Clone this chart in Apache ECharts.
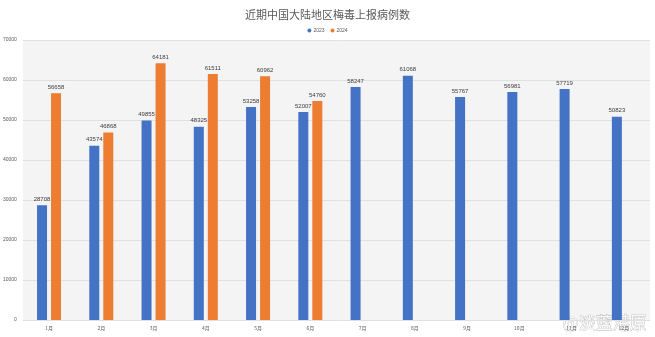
<!DOCTYPE html>
<html>
<head>
<meta charset="utf-8">
<script src="https://cdn.jsdelivr.net/npm/echarts@6/dist/echarts.min.js"></script>
<style>
  html, body { margin: 0; padding: 0; background: #fff; }
  #chart { width: 655px; height: 337px; }
</style>
</head>
<body>
<div id="chart"></div>
<script>
const months = ['1月', '2月', '3月', '4月', '5月', '6月', '7月', '8月', '9月', '10月', '11月', '12月']
const cases2023 = [28708, 43574, 49855, 48325, 53258, 52007, 58247, 61068, 55767, 56981, 57719, 50823]
const cases2024 = [56658, 46868, 64181, 61511, 60962, 54760, null, null, null, null, null, null]
const yTicks = [0, 10000, 20000, 30000, 40000, 50000, 60000, 70000]

const chart = echarts.init(document.getElementById('chart'), null, { renderer: 'canvas' })

const labelStyle = {
  show: true,
  position: 'top',
  distance: 3,
  color: '#404040',
  fontSize: 6,
  fontFamily: 'Liberation Sans',
  formatter: (p) => String(p.value),
}

chart.setOption({
  backgroundColor: '#fff',
  animation: false,
  title: {
    text: '近期中国大陆地区梅毒上报病例数',
    left: 'center',
    top: 4,
    textStyle: { color: '#595959', fontSize: 11, fontWeight: 'normal', fontFamily: 'Noto Sans CJK SC' },
  },
  legend: {
    top: 23,
    left: 'center',
    itemWidth: 4,
    itemHeight: 4,
    itemGap: 6,
    icon: 'circle',
    textStyle: { color: '#595959', fontSize: 5, padding: [0, 0, 0, -3] },
    data: ['2023', '2024'],
  },
  grid: {
    left: 22,
    right: 5,
    top: 40,
    bottom: 17,
    show: true,
    backgroundColor: '#f4f4f4',
    borderWidth: 0,
  },
  xAxis: {
    type: 'category',
    data: months,
    axisLine: { show: false },
    axisTick: { show: false },
    axisLabel: { color: '#595959', fontSize: 5, margin: 6, fontFamily: 'Noto Sans CJK SC' },
  },
  yAxis: {
    type: 'value',
    min: yTicks[0],
    max: yTicks[yTicks.length - 1],
    interval: 10000,
    axisLabel: {
      color: '#595959',
      fontSize: 5,
      margin: 6,
      fontFamily: 'Liberation Sans',
      formatter: (v) => String(v),
    },
    splitLine: { lineStyle: { color: '#e0e0e0', width: 1 } },
  },
  series: [
    {
      name: '2023',
      type: 'bar',
      data: cases2023,
      barWidth: 10,
      barGap: '40%',
      itemStyle: { color: '#4472C4' },
      label: labelStyle,
    },
    {
      name: '2024',
      type: 'bar',
      data: cases2024,
      barWidth: 10,
      itemStyle: { color: '#ED7D31' },
      label: labelStyle,
    },
  ],
  graphic: [
    {
      type: 'text',
      right: 8,
      bottom: 6,
      style: {
        text: '@淡蓝港原',
        fill: 'rgba(255,255,255,0.85)',
        stroke: 'rgba(120,120,120,0.6)',
        lineWidth: 0.6,
        fontSize: 17,
        fontFamily: 'Noto Sans CJK SC',
      },
    },
  ],
})
</script>
</body>
</html>
